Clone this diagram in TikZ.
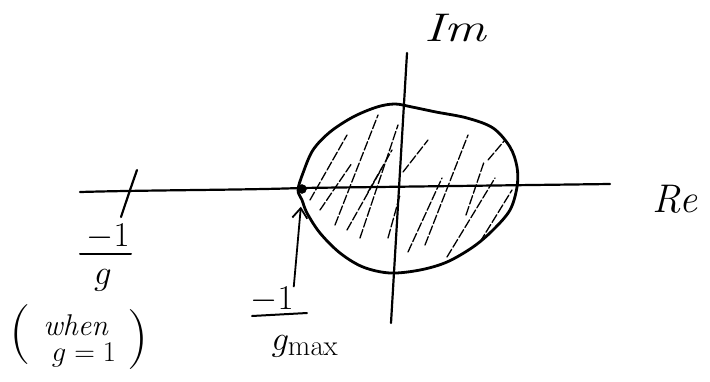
\documentclass[tikz,border=0pt]{standalone}
\usepackage{graphicx}
\usetikzlibrary{arrows.meta}
\newcommand{\sketchmath}[1]{\scalebox{1.4}{$#1$}}
\begin{document}
\begin{tikzpicture}[x=1pt,y=-1pt,
  axis/.style={line width=2.2pt, line cap=round},
  blobline/.style={line width=2.8pt},
  hatch/.style={line width=1.3pt, dash pattern=on 9pt off 2.5pt, line cap=round},
  lab/.style={font=\itshape\fontsize{40}{42}\selectfont, inner sep=0pt},
  mid/.style={font=\fontsize{24.88}{28}\selectfont, inner sep=0pt},
  small/.style={font=\fontsize{30}{32}\selectfont, inner sep=0pt},
  paren/.style={font=\fontsize{60}{62}\selectfont, inner sep=0pt},
  barline/.style={line width=2pt, line cap=round},
  pointer/.style={line width=1.8pt, shorten >=13pt, -{Straight Barb[length=10pt,width=15pt,line width=1.8pt]}}]
\useasboundingbox (0,0) rectangle (710,381);
% axes
\draw[axis] (80,192) .. controls (150,190) and (250,190) .. (300,188) -- (610,184);
\draw[axis] (407,53) -- (391,323);
\draw[axis] (137,170) .. controls (130,190) .. (121,217);
% region
\def\blobpath{plot[smooth cycle, tension=0.55] coordinates {(298,190) (303,173) (313,150) (330,132) (353,117) (377,107) (395,104) (412,107) (436,112) (467,118) (493,128) (510,147) (517,167) (517,187) (510,210) (493,230) (473,247) (447,262) (420,270) (390,273) (363,267) (340,253) (320,233) (307,213) (302,200)}}
\begin{scope}
  \clip \blobpath;
  \foreach \a/\b/\c/\d in {310/200/347/135, 320/210/352/163, 335/225/378/115, 347/230/382/168,
      360/238/398/125, 388/238/400/195, 408/252/442/178, 425/245/468/135, 447/257/495/178,
      466/215/484/162, 403/172/428/140, 368/192/392/150, 480/242/512/190, 488/160/505/140}
    \draw[hatch] (\a,\b) -- (\c,\d);
\end{scope}
\draw[blobline] \blobpath;
% point -1/gmax
\node[circle, fill, draw, inner sep=0pt, minimum size=9pt] (pt) at (302,189) {};
% labels
\node[lab, xscale=1.3] (im) at (455,28) {Im};
\node[lab] (re) at (675,199) {Re};
\node[mid] (n1) at (108,237) {\sketchmath{-1}};
\draw[barline] (80,254) -- (131,254);
\node[mid] (g1) at (103,280) {\sketchmath{g}};
\node[paren] (lp) at (20,335) {(};
\node[small] (when) at (76,325) {\textit{when}};
\node[mid] (g2) at (84,355) {\scalebox{1.15}{$g=1$}};
\node[paren] (rp) at (138,340) {)};
\node[mid] (n2) at (272,300) {\sketchmath{-1}};
\draw[barline] (252,316) -- (307,313);
\node[mid] (gmax) at (305,346) {\sketchmath{g_{\max}}};
\draw[pointer] (n2.north east) -- (pt.south);
\end{tikzpicture}
\end{document}
